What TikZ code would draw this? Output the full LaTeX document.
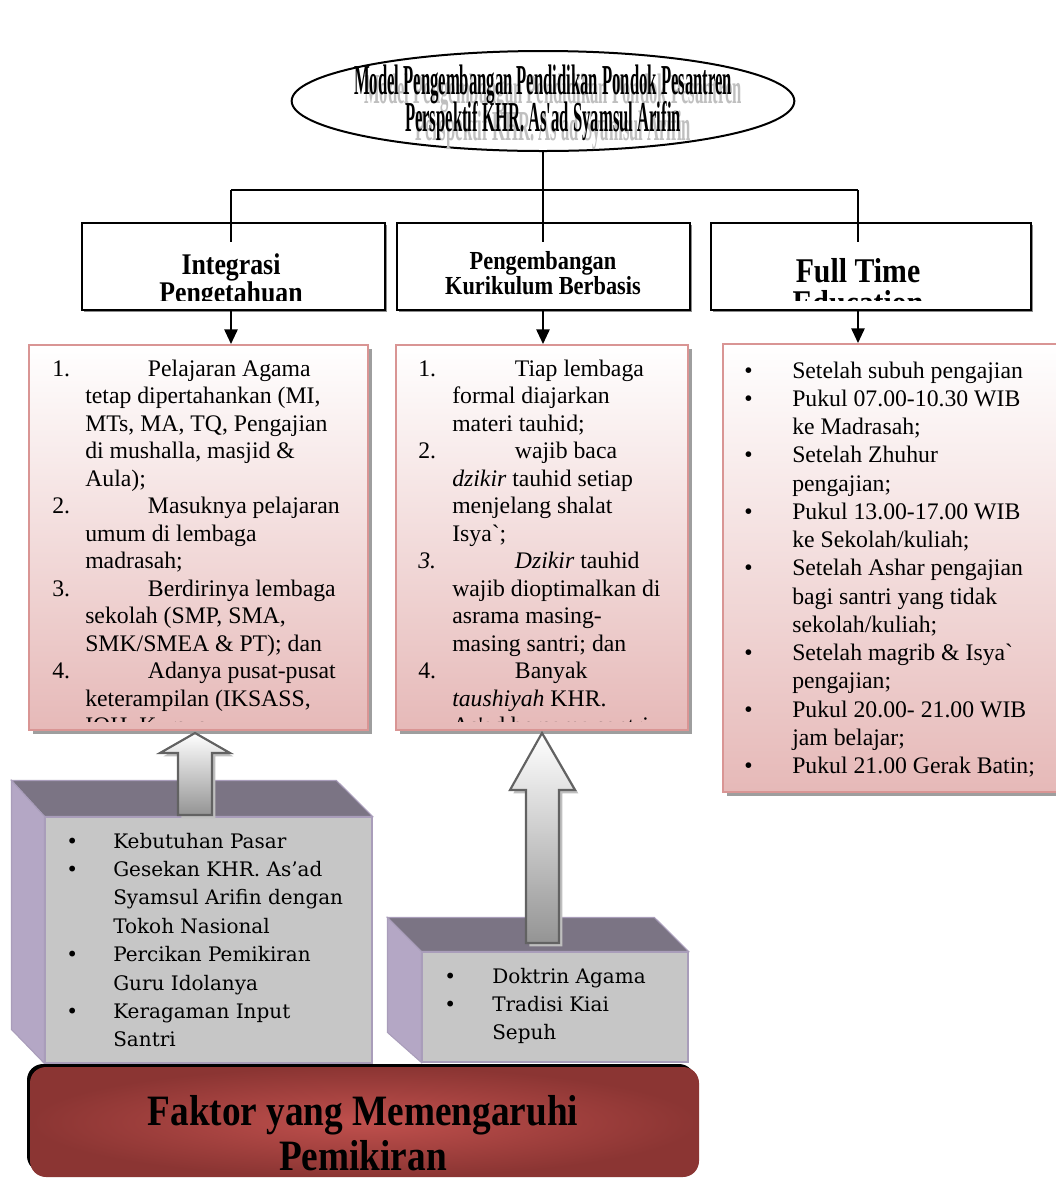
\documentclass[tikz,border=0pt]{standalone}
\usepackage{fontspec}
\setmainfont{Liberation Serif}[Ligatures=TeXOff]
\newfontfamily\titlefont[FakeStretch=0.39]{Liberation Serif}
\newfontfamily\headfont[FakeStretch=0.86]{Liberation Serif}
\newfontfamily\causefont{DejaVu Serif}
\usetikzlibrary{shapes.geometric,arrows.meta,fit,shadows}
\definecolor{pinkedge}{HTML}{D99594}
\definecolor{pinkbot}{HTML}{E6B9B8}
\definecolor{greyfront}{HTML}{C6C6C6}
\definecolor{greytop}{HTML}{7B7484}
\definecolor{greyside}{HTML}{B4A7C5}
\definecolor{greyedge}{HTML}{A99DBA}
\definecolor{bannerin}{HTML}{C0504D}
\definecolor{bannerout}{HTML}{8B3533}
\definecolor{arrowedge}{HTML}{626262}
\tikzset{
  titleline/.style={font=\titlefont\bfseries\fontsize{32}{32}\selectfont,inner sep=0pt},
  headbox/.style={draw,line width=2pt,fill=white,inner sep=0pt,
    drop shadow={fill=black!45,opacity=1,shadow xshift=1.5pt,shadow yshift=-1.5pt}},
  headtext/.style={font=\headfont\bfseries,align=center,inner sep=0pt},
  listbox/.style={draw=pinkedge,line width=1.5pt,top color=white,bottom color=pinkbot,inner sep=0pt,
    drop shadow={fill=black!38,opacity=1,shadow xshift=3pt,shadow yshift=-3pt}},
  listtext/.style={anchor=north west,inner sep=0pt,font=\fontsize{17.8}{20.6}\selectfont},
  causebox/.style={fill=greyfront,draw=greyedge,line width=0.8pt,inner sep=0pt},
  causetext/.style={anchor=north west,inner sep=0pt,font=\causefont\fontsize{15}{21.3}\selectfont},
  arr/.style={-{Triangle[width=10pt,length=11pt]},line width=1.3pt},
  uparrow/.style={draw=arrowedge,line width=1.6pt,line join=miter,top color=white,bottom color=black!42,
    drop shadow={fill=black!25,opacity=1,shadow xshift=2.5pt,shadow yshift=-2.5pt}},
}
\begin{document}
\begin{tikzpicture}[x=0.75pt,y=-0.75pt]
\useasboundingbox (0,0) rectangle (1056,1183);

% title ellipse
\node[ellipse,draw,line width=1.5pt,fill=white,minimum width=377pt,minimum height=75pt,inner sep=0pt] (title) at (543,101) {};
\node[titleline,text=black!25,anchor=base] (ghost1) at (553,103) {Model Pengembangan Pendidikan Pondok Pesantren};
\node[titleline,text=black!25,anchor=base] (ghost2) at (553,140) {Perspektif KHR. As'ad Syamsul Arifin};
\node[titleline,anchor=base] (title1) at (543,94) {Model Pengembangan Pendidikan Pondok Pesantren};
\node[titleline,anchor=base] (title2) at (543,131) {Perspektif KHR. As'ad Syamsul Arifin};

% three headings
\node[headbox,fit={(82,223) (385,310)}] (box1) {};
\node[headbox,fit={(397,223) (690,310)}] (box2) {};
\node[headbox,fit={(711,223) (1031,310)}] (box3) {};
\foreach \x [count=\j from 1] in {231,543,858} \coordinate (bus\j) at (\x,190);
\draw[line width=1.3pt] (title.south) -- (bus2);
\draw[line width=1.3pt] (bus1) -- (bus3);
\foreach \j in {1,2,3} \draw[line width=1.3pt] (bus\j) -- ++(0,52);
\begin{scope}
  \clip (84,225) rectangle (1029,300);
  \node[headtext,font=\headfont\bfseries\fontsize{22.5}{21}\selectfont] (head1) at (231,281) {Integrasi\\Pengetahuan};
  \node[headtext,font=\headfont\bfseries\fontsize{19.5}{18.75}\selectfont] (head2) at (543,273) {Pengembangan\\Kurikulum Berbasis};
  \node[headtext,font=\headfont\bfseries\fontsize{26}{24}\selectfont] (head3) at (858,287) {Full Time\\Education};
\end{scope}

% lists
\node[listbox,fit={(29,345) (368,730)}] (list1) {};
\node[listbox,fit={(396,345) (688,730)}] (list2) {};
\node[listbox,fit={(723,344) (1062,792)}] (list3) {};
\foreach \j in {1,2,3} \draw[arr] (box\j.south -| bus\j) -- (list\j.north -| bus\j);

\begin{scope}
  \clip (31,347) rectangle (686,721);
  \node[listtext] (items1) at (52,357) {\begin{tabular}{@{}p{24.75pt}@{}l@{}}
    1.&\hspace*{47pt}Pelajaran Agama\\
    &tetap dipertahankan (MI,\\
    &MTs, MA, TQ, Pengajian\\
    &di mushalla, masjid \&\\
    &Aula);\\
    2.&\hspace*{47pt}Masuknya pelajaran\\
    &umum di lembaga\\
    &madrasah;\\
    3.&\hspace*{47pt}Berdirinya lembaga\\
    &sekolah (SMP, SMA,\\
    &SMK/SMEA \& PT); dan\\
    4.&\hspace*{47pt}Adanya pusat-pusat\\
    &keterampilan (IKSASS,\\
    &IQH, Kursus
  \end{tabular}};
  \node[listtext] (items2) at (418,357) {\begin{tabular}{@{}p{25.5pt}@{}l@{}}
    1.&\hspace*{47pt}Tiap lembaga\\
    &formal diajarkan\\
    &materi tauhid;\\
    2.&\hspace*{47pt}wajib baca\\
    &\textit{dzikir} tauhid setiap\\
    &menjelang shalat\\
    &Isya`;\\
    \textit{3.}&\hspace*{47pt}\textit{Dzikir} tauhid\\
    &wajib dioptimalkan di\\
    &asrama masing-\\
    &masing santri; dan\\
    4.&\hspace*{47pt}Banyak\\
    &\textit{taushiyah} KHR.\\
    &As'ad bersama santri
  \end{tabular}};
\end{scope}
\node[listtext,font=\fontsize{17.8}{21.2}\selectfont] (items3) at (744,358) {\begin{tabular}{@{}p{36pt}@{}l@{}}
  •&Setelah subuh pengajian\\
  •&Pukul 07.00-10.30 WIB\\
  &ke Madrasah;\\
  •&Setelah Zhuhur\\
  &pengajian;\\
  •&Pukul 13.00-17.00 WIB\\
  &ke Sekolah/kuliah;\\
  •&Setelah Ashar pengajian\\
  &bagi santri yang tidak\\
  &sekolah/kuliah;\\
  •&Setelah magrib \& Isya`\\
  &pengajian;\\
  •&Pukul 20.00- 21.00 WIB\\
  &jam belajar;\\
  •&Pukul 21.00 Gerak Batin;
\end{tabular}};

% cause blocks
\node[causebox,fit={(45,817) (372,1063)}] (cause1) {};
\filldraw[fill=greytop,draw=greyedge,line width=0.8pt] (cause1.north west) -- ++(-33,-36) -- ++(325,0) -- (cause1.north east) -- cycle;
\filldraw[fill=greyside,draw=greyedge,line width=0.8pt] (cause1.north west) -- ++(-33,-36) -- ++(0,249) -- (cause1.south west) -- cycle;
\node[causebox,fit={(422,952) (688,1062)}] (cause2) {};
\filldraw[fill=greytop,draw=greyedge,line width=0.8pt] (cause2.north west) -- ++(-34,-34) -- ++(267,0) -- (cause2.north east) -- cycle;
\filldraw[fill=greyside,draw=greyedge,line width=0.8pt] (cause2.north west) -- ++(-34,-34) -- ++(0,115) -- (cause2.south west) -- cycle;
\node[causetext] (factors1) at (66,828) {\begin{tabular}{@{}p{35.25pt}@{}l@{}}
  •&Kebutuhan Pasar\\
  •&Gesekan KHR. As’ad\\
  &Syamsul Arifin dengan\\
  &Tokoh Nasional\\
  •&Percikan Pemikiran\\
  &Guru Idolanya\\
  •&Keragaman Input\\
  &Santri
\end{tabular}};
\node[causetext] (factors2) at (444,963) {\begin{tabular}{@{}p{36pt}@{}l@{}}
  •&Doktrin Agama\\
  •&Tradisi Kiai\\
  &Sepuh
\end{tabular}};

% block arrows
\coordinate (tip1) at (195,733);
\coordinate (tip2) at (542,733);
\draw[uparrow] (tip1) -- ++(35,20) -- ++(-18,0) -- ++(0,62) -- ++(-34,0) -- ++(0,-62) -- ++(-18,0) -- cycle;
\draw[uparrow] (tip2) -- ++(33,57) -- ++(-16,0) -- ++(0,153) -- ++(-33,0) -- ++(0,-153) -- ++(-16,0) -- cycle;

% banner
\fill[black,rounded corners=12pt] (27,1064) rectangle (695,1172);
\node[fit={(30,1067) (699,1177)},inner sep=0pt,rounded corners=12pt,shading=radial,inner color=bannerin,outer color=bannerout] (factor) {};
\node[font=\headfont\bfseries\fontsize{32.5}{34}\selectfont,align=center] (factortext) at (363,1133) {Faktor yang Memengaruhi\\Pemikiran};
\end{tikzpicture}
\end{document}
